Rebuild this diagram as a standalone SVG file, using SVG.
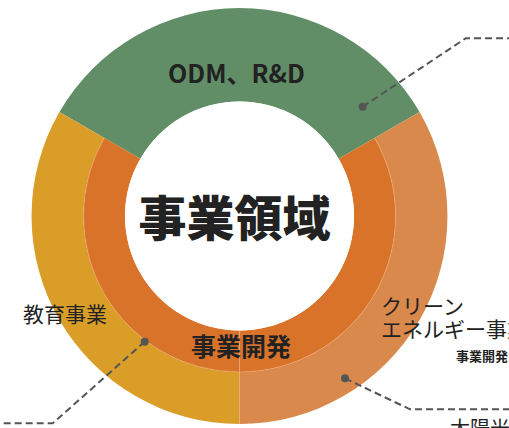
<svg xmlns="http://www.w3.org/2000/svg" width="509" height="428" viewBox="0 0 509 428">
<style>
.jp{font-family:"Noto Sans CJK JP","Noto Sans",sans-serif;fill:#222}
.b{font-weight:700}
.k{font-weight:900}
.sep{stroke:#f0b080;stroke-width:0.8;stroke-opacity:0.6}
.conn{fill:none;stroke:#555;stroke-width:2;stroke-dasharray:7 4}
.dot{fill:#555}
</style>
<rect width="509" height="428" fill="#fff"/>
<g id="node-odm">
<path d="M59.4,112 A208,208 0 0 1 419.6,112 L338.7,158.75 A114.5,114.5 0 0 0 140.3,158.75 Z" fill="#618E67"/>
<text class="jp b" x="236.5" y="83" font-size="25" text-anchor="middle">ODM、R&amp;D</text>
</g>
<g id="node-education">
<path d="M59.4,112 A208,208 0 0 0 239.5,424 L239.5,372 A156,156 0 0 1 104.4,138 Z" fill="#DA9E28"/>
<text class="jp" x="23" y="321.5" font-size="21">教育事業</text>
</g>
<g id="node-clean">
<path d="M419.6,112 A208,208 0 0 1 239.5,424 L239.5,372 A156,156 0 0 0 374.6,138 Z" fill="#DA894C"/>
<text class="jp" font-size="21"><tspan x="381" y="314">クリーン</tspan><tspan x="381" y="337">エネルギー事業</tspan></text>
<text class="jp b" x="456" y="361" font-size="13">事業開発</text>
<text class="jp" x="450" y="436" font-size="20">太陽光エ</text>
</g>
<g id="node-dev">
<path d="M104.4,138 A156,156 0 0 0 239.5,372 L239.5,330.5 A114.5,114.5 0 0 1 140.3,158.75 Z" fill="#D87329"/>
<path d="M374.6,138 A156,156 0 0 1 239.5,372 L239.5,330.5 A114.5,114.5 0 0 0 338.7,158.75 Z" fill="#D87329"/>
<line class="sep" x1="239.5" y1="330.5" x2="239.5" y2="424"/>
<path class="sep" fill="none" d="M104.4,138 A156,156 0 0 0 239.5,372 A156,156 0 0 0 374.6,138"/>
<text class="jp b" x="241" y="355.5" font-size="25" text-anchor="middle">事業開発</text>
</g>
<g id="node-center">
<circle cx="239.5" cy="216" r="114.5" fill="#fff"/>
<text class="jp k" x="234.5" y="236" font-size="48" text-anchor="middle">事業領域</text>
</g>
<g id="connectors">
<polyline class="conn" points="362.7,106.7 465.7,38.3 509,38.3"/>
<circle class="dot" cx="362.7" cy="106.7" r="4"/>
<polyline class="conn" points="144.7,341.7 52.7,423.3 0,423.3"/>
<circle class="dot" cx="144.7" cy="341.7" r="4"/>
<polyline class="conn" points="345,378.3 410,409.3 509,409.3"/>
<circle class="dot" cx="345" cy="378.3" r="4"/>
</g>
</svg>
